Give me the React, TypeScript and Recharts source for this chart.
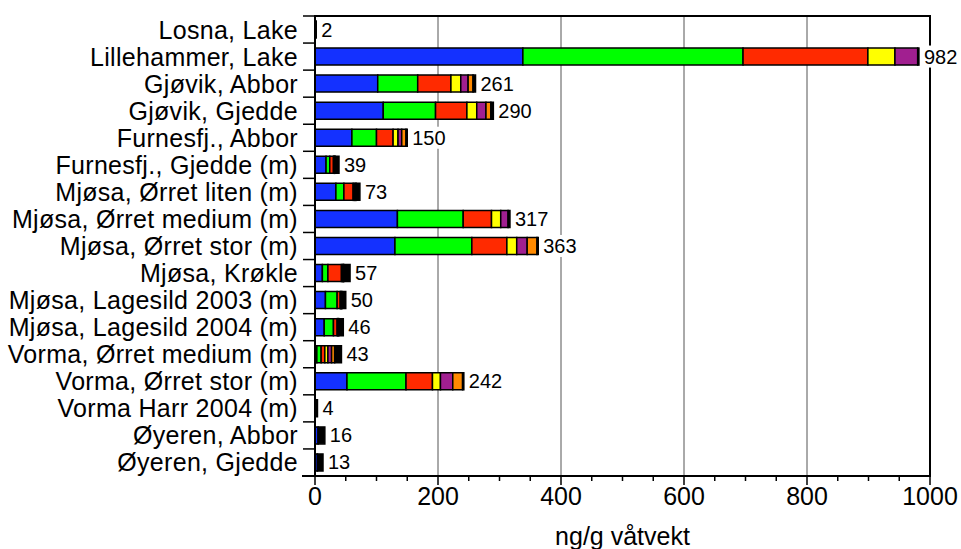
import React from 'react';
import { BarChart, Bar, XAxis, YAxis, CartesianGrid, LabelList, ReferenceArea } from 'recharts';

const categories = [
  'Losna, Lake',
  'Lillehammer, Lake',
  'Gjøvik, Abbor',
  'Gjøvik, Gjedde',
  'Furnesfj., Abbor',
  'Furnesfj., Gjedde (m)',
  'Mjøsa, Ørret liten (m)',
  'Mjøsa, Ørret medium (m)',
  'Mjøsa, Ørret stor (m)',
  'Mjøsa, Krøkle',
  'Mjøsa, Lagesild 2003 (m)',
  'Mjøsa, Lagesild 2004 (m)',
  'Vorma, Ørret medium (m)',
  'Vorma, Ørret stor (m)',
  'Vorma Harr 2004 (m)',
  'Øyeren, Abbor',
  'Øyeren, Gjedde',
];

const totals = [2, 982, 261, 290, 150, 39, 73, 317, 363, 57, 50, 46, 43, 242, 4, 16, 13];

const blue = [0, 338, 102, 111, 60, 18, 34, 134, 130, 12, 17, 15, 3, 52, 0, 5, 4];
const green = [0, 358, 65, 85, 40, 6, 13, 107, 125, 9, 19, 15, 7, 96, 0, 0, 0];
const red = [0, 203, 54, 51, 27, 6, 15, 46, 57, 22, 5, 6, 6, 43, 0, 0, 0];
const yellow = [0, 44, 16, 16, 8, 1, 2, 15, 16, 2, 1, 1, 5, 13, 0, 0, 0];
const purple = [0, 37, 12, 15, 6, 1, 2, 12, 17, 1, 1, 1, 6, 20, 0, 0, 0];
const orange = [0, 0, 8, 8, 7, 1, 1, 0, 16, 1, 1, 1, 5, 16, 0, 0, 0];
const other = [2, 2, 4, 4, 2, 6, 6, 3, 2, 10, 6, 7, 11, 2, 4, 11, 9];

const xTicks = [0, 50, 100, 150, 200, 250, 300, 350, 400, 450, 500, 550, 600, 650, 700, 750, 800, 850, 900, 950, 1000];
const xLabelled = [0, 200, 400, 600, 800, 1000];
const gridValues = [200, 400, 600, 800];

const series = [
  { key: 'blue', color: '#1431ff' },
  { key: 'green', color: '#00ff00' },
  { key: 'red', color: '#ff2a00' },
  { key: 'yellow', color: '#ffff00' },
  { key: 'purple', color: '#a11f90' },
  { key: 'orange', color: '#ff8a00' },
  { key: 'other', color: '#000000' },
];

const data = categories.map((name, i) => ({
  name,
  total: totals[i],
  blue: blue[i],
  green: green[i],
  red: red[i],
  yellow: yellow[i],
  purple: purple[i],
  orange: orange[i],
  other: other[i],
}));

const TOP = 16;
const BOTTOM = 73;
const HEIGHT = 549;
const BAND = (HEIGHT - TOP - BOTTOM) / categories.length;

const CategoryTick = (props: any) => {
  const { x, y, payload, index } = props;
  const half = payload && payload.offset ? payload.offset : BAND / 2;
  return (
    <g>
      <line x1={x - 12} x2={x} y1={y - half} y2={y - half} stroke="#000" strokeWidth={1.5} />
      {index === categories.length - 1 && (
        <line x1={x - 12} x2={x} y1={y + half} y2={y + half} stroke="#000" strokeWidth={1.5} />
      )}
      <text x={x - 17} y={y} textAnchor="end" dominantBaseline="central" fontSize={25} letterSpacing={0.3} fill="#000">
        {payload.value}
      </text>
    </g>
  );
};

const ValueTick = (props: any) => {
  const { x, y, payload } = props;
  const major = xLabelled.includes(payload.value);
  return (
    <g>
      {payload.value === 0 && <line x1={x - 13} x2={x} y1={y} y2={y} stroke="#000" strokeWidth={2} />}
      <line x1={x} x2={x} y1={y} y2={y + (major ? 9 : 5)} stroke="#000" strokeWidth={1.5} />
      {major && (
        <text x={x} y={y + 20} textAnchor="middle" dominantBaseline="central" fontSize={25} fill="#000">
          {payload.value}
        </text>
      )}
    </g>
  );
};

const TotalLabel = (props: any) => {
  const { x, y, width, height, value } = props;
  const tx = x + width + 5;
  const ty = y + height / 2;
  const w = String(value).length * 11.2;
  return (
    <g>
      <rect x={tx - 1} y={ty - 11} width={w + 2} height={22} fill="#fff" />
      <text x={tx} y={ty} dominantBaseline="central" fontSize={20} fill="#000">
        {value}
      </text>
    </g>
  );
};

export default function App() {
  return (
    <div style={{ position: 'absolute', left: 0, top: 0, width: 961, height: 549, background: '#fff', fontFamily: '"Liberation Sans", Arial, sans-serif' }}>
      <BarChart
        width={961}
        height={HEIGHT}
        data={data}
        layout="vertical"
        margin={{ top: TOP, right: 31, left: 15, bottom: 0 }}
        barSize={17}
      >
        <CartesianGrid
          horizontal={false}
          stroke="#555"
          strokeWidth={1}
          verticalCoordinatesGenerator={(p: any) => {
            const sc = p && p.xAxis && p.xAxis.scale;
            if (sc && typeof sc === 'function') return gridValues.map(v => sc(v));
            return gridValues.map(v => p.offset.left + (v / 1000) * p.offset.width);
          }}
        />
        <ReferenceArea x1={0} x2={1000} fill="none" fillOpacity={0} stroke="#000" strokeWidth={2} ifOverflow="visible" />
        <XAxis
          type="number"
          domain={[0, 1000]}
          ticks={xTicks}
          interval={0}
          height={BOTTOM}
          tickSize={0}
          tickMargin={0}
          tickLine={false}
          axisLine={{ stroke: '#000', strokeWidth: 2 }}
          tick={<ValueTick />}
          label={{ value: 'ng/g våtvekt', position: 'insideBottom', offset: 4, fontSize: 25, fill: '#000' }}
        />
        <YAxis
          type="category"
          dataKey="name"
          width={300}
          interval={0}
          tickSize={0}
          tickMargin={0}
          tickLine={false}
          axisLine={{ stroke: '#000', strokeWidth: 2 }}
          tick={<CategoryTick />}
        />
        {series.map((s, i) => (
          <Bar key={s.key} dataKey={s.key} stackId="a" fill={s.color} stroke="#000" strokeWidth={1.5} isAnimationActive={false}>
            {i === series.length - 1 && <LabelList dataKey="total" content={<TotalLabel />} />}
          </Bar>
        ))}
      </BarChart>
    </div>
  );
}
